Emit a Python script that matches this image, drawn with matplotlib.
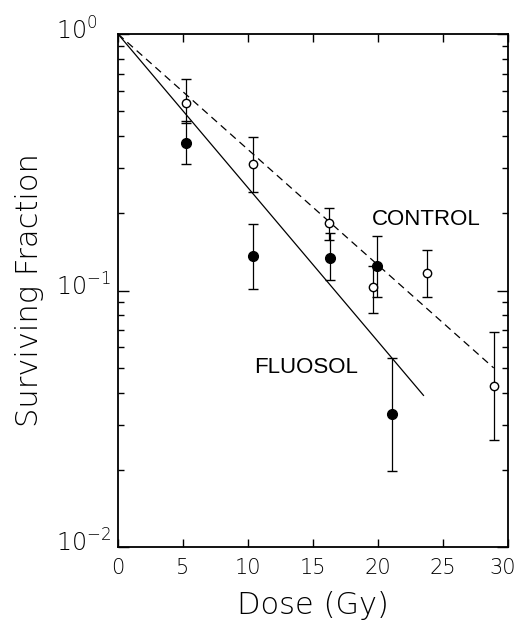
import matplotlib
matplotlib.use("Agg")
import matplotlib.pyplot as plt
from matplotlib.ticker import LogLocator, FixedLocator, NullFormatter
from matplotlib.transforms import ScaledTranslation

# ---- data ----
control_dose = [5.2, 10.4, 16.2, 19.6, 23.8, 28.9]
control_sf = [0.54, 0.31, 0.183, 0.103, 0.117, 0.0425]
control_lo = [0.45, 0.242, 0.157, 0.082, 0.094, 0.0261]
control_hi = [0.668, 0.397, 0.21, 0.125, 0.144, 0.069]

fluosol_dose = [5.2, 10.4, 16.3, 19.9, 21.1]
fluosol_sf = [0.375, 0.136, 0.134, 0.125, 0.033]
fluosol_lo = [0.311, 0.101, 0.11, 0.094, 0.0198]
fluosol_hi = [0.46, 0.182, 0.167, 0.163, 0.0546]

control_fit_x = [0.0, 28.9]
control_fit_y = [1.0, 0.0499]
fluosol_fit_x = [0.0, 23.5]
fluosol_fit_y = [1.0, 0.039]

x_ticks = [0, 5, 10, 15, 20, 25, 30]
y_ticks = [0.01, 0.1, 1.0]
y_ticklabels = [r"$10^{-2}$", r"$10^{-1}$", r"$10^{0}$"]

plt.rcParams['mathtext.fontset'] = 'dejavusans'
plt.rcParams['mathtext.default'] = 'regular'

fig = plt.figure(figsize=(5.18, 6.3), dpi=100)
ax = fig.add_axes([118/518, 83/630, 390/518, 513/630])

lw = 0.9
# fits
ax.plot(control_fit_x, control_fit_y, color='black', lw=lw, dashes=(6, 4))
ax.plot(fluosol_fit_x, fluosol_fit_y, color='black', lw=lw)

def errs(v, lo, hi):
    return [[a - b for a, b in zip(v, lo)], [c - a for a, c in zip(v, hi)]]

ax.errorbar(control_dose, control_sf, yerr=errs(control_sf, control_lo, control_hi),
            fmt='o', mfc='white', mec='black', ecolor='black', ms=6, mew=1.0,
            elinewidth=lw, capsize=3.5, capthick=lw, zorder=3)
ax.errorbar(fluosol_dose, fluosol_sf, yerr=errs(fluosol_sf, fluosol_lo, fluosol_hi),
            fmt='o', mfc='black', mec='black', ecolor='black', ms=7, mew=1.0,
            elinewidth=lw, capsize=3.5, capthick=lw, zorder=3)

ax.set_yscale('log')
ax.set_xlim(0, 30)
ax.set_ylim(0.01, 1.0)

ax.xaxis.set_major_locator(FixedLocator(x_ticks))
ax.set_xticklabels([str(t) for t in x_ticks], family='DejaVu Sans', weight=200)
ax.yaxis.set_major_locator(FixedLocator(y_ticks))
ax.set_yticklabels(y_ticklabels, ha='left', family='DejaVu Sans', weight=200)
ax.yaxis.set_minor_locator(LogLocator(base=10, subs=range(2, 10)))
ax.yaxis.set_minor_formatter(NullFormatter())

ax.tick_params(axis='both', which='both', direction='in', top=True, right=True)
ax.tick_params(axis='x', which='major', length=6, width=1.0, labelsize=15, pad=8)
ax.tick_params(axis='y', which='major', length=8, width=1.0, labelsize=17, pad=45)
ax.tick_params(axis='y', which='minor', length=4, width=1.0)
for sp in ax.spines.values():
    sp.set_linewidth(1.3)

# small offsets of tick labels as in the reference
last = ax.get_xticklabels()[-1]
last.set_transform(last.get_transform() + ScaledTranslation(-5/100, 0, fig.dpi_scale_trans))
for lab in ax.get_yticklabels():
    lab.set_transform(lab.get_transform() + ScaledTranslation(0, 6/100, fig.dpi_scale_trans))

ax.set_xlabel('Dose (Gy)', fontsize=22, family='DejaVu Sans', weight=200, labelpad=9)
ax.set_ylabel('Surviving Fraction', fontsize=22, family='DejaVu Sans', weight=200)
ax.yaxis.set_label_coords(-0.19, 0.5)

ax.text(0.651, 0.639, 'CONTROL', transform=ax.transAxes, fontsize=16,
        family='Liberation Sans', ha='left', va='center')
ax.text(0.35, 0.349, 'FLUOSOL', transform=ax.transAxes, fontsize=16,
        family='Liberation Sans', ha='left', va='center')

fig.savefig('out.png', dpi=100)
